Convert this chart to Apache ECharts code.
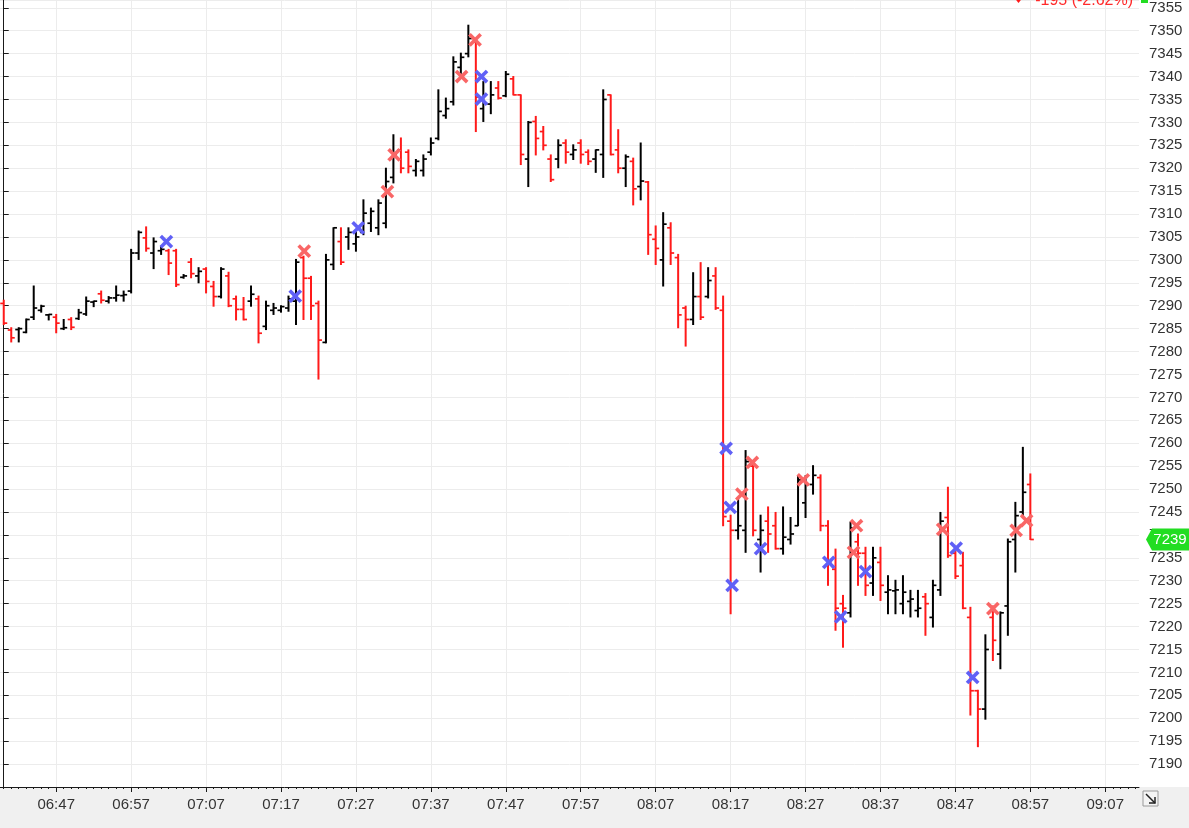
<!DOCTYPE html>
<html><head><meta charset="utf-8">
<script src="https://cdn.jsdelivr.net/npm/echarts@6/dist/echarts.min.js"></script>
<style>
html,body{margin:0;padding:0;background:#fff;}
#c{width:1189px;height:828px;background:linear-gradient(to bottom,#ffffff 0px,#ffffff 787px,#f0f0f0 787px,#f0f0f0 828px);}
</style></head><body><div id="c"></div>
<script>
// ---- data (1-minute bars starting 06:40) ----
const startMinute = 6 * 60 + 40;
const axisSlots = 152; // 06:40 .. 09:11
const opens = [7290.5,7284.7,7284.8,7284.2,7287.5,7289.0,7288.0,7287.5,7285.0,7287.0,
  7287.2,7288.2,7290.8,7292.6,7291.0,7291.7,7292.2,7293.2,7301.5,7304.8,
  7301.5,7302.0,7302.0,7302.0,7296.2,7299.5,7296.5,7298.0,7294.2,7292.0,
  7296.5,7291.5,7289.2,7291.0,7291.5,7285.5,7289.0,7289.0,7289.5,7291.0,
  7300.5,7296.0,7290.5,7282.0,7299.0,7304.0,7305.0,7303.5,7306.0,7308.0,
  7307.0,7308.0,7318.0,7324.0,7323.5,7319.5,7319.5,7323.5,7326.5,7331.5,
  7334.5,7342.0,7345.0,7347.5,7333.0,7334.0,7337.5,7335.8,7339.5,7336.0,
  7322.0,7330.2,7328.0,7322.0,7322.0,7325.5,7323.0,7325.5,7323.5,7322.0,
  7323.0,7336.0,7324.0,7320.0,7321.5,7316.0,7317.0,7304.5,7300.0,7307.0,
  7300.5,7289.5,7287.0,7292.0,7292.0,7296.5,7289.0,7243.0,7241.0,7241.0,
  7255.0,7239.0,7243.0,7242.0,7237.0,7239.0,7242.0,7247.0,7251.0,7252.5,
  7242.0,7232.5,7225.0,7223.0,7238.5,7236.0,7229.5,7234.0,7227.5,7227.8,
  7225.0,7225.5,7223.5,7226.5,7222.0,7228.0,7243.8,7236.0,7233.3,7222.0,
  7206.0,7202.0,7222.0,7214.0,7224.5,7239.0,7245.0,7251.0];
const highs = [7291.2,7285.2,7285.2,7287.1,7294.3,7290.1,7288.1,7288.1,7287.0,7287.4,
  7289.2,7291.9,7291.0,7293.2,7292.0,7294.3,7293.2,7302.3,7306.3,7307.2,
  7304.8,7303.0,7302.3,7302.3,7296.8,7300.3,7298.3,7298.3,7295.3,7298.3,
  7297.3,7292.1,7291.8,7294.3,7292.1,7291.0,7290.5,7290.0,7292.1,7300.1,
  7300.8,7296.4,7291.0,7301.2,7307.0,7307.0,7307.0,7306.2,7313.1,7311.3,
  7313.1,7320.0,7327.3,7326.6,7324.0,7321.9,7322.9,7326.6,7337.1,7335.3,
  7344.3,7345.1,7351.2,7348.0,7338.9,7338.9,7338.9,7341.1,7340.0,7336.0,
  7330.2,7331.3,7329.1,7322.9,7326.2,7326.2,7325.1,7326.2,7324.0,7324.0,
  7337.1,7336.0,7328.4,7322.9,7322.2,7325.5,7317.1,7307.4,7310.3,7308.1,
  7301.2,7289.9,7297.2,7299.4,7298.3,7298.3,7292.1,7244.3,7247.8,7258.4,
  7255.8,7244.3,7246.1,7244.9,7246.1,7243.8,7252.9,7252.9,7255.1,7253.1,
  7243.1,7236.9,7226.8,7242.8,7240.2,7237.3,7237.3,7237.3,7231.1,7230.1,
  7231.1,7227.9,7227.9,7227.2,7230.1,7244.9,7250.4,7236.6,7236.2,7224.2,
  7206.1,7218.2,7224.5,7223.2,7239.1,7247.1,7259.1,7253.3];
const lows = [7285.9,7282.1,7282.1,7284.1,7287.0,7288.6,7286.9,7284.1,7284.8,7284.8,
  7287.0,7287.9,7289.8,7290.6,7290.6,7291.0,7291.0,7292.8,7300.1,7301.9,
  7298.1,7301.2,7296.8,7294.2,7296.0,7296.1,7295.0,7292.8,7289.9,7291.7,
  7289.8,7286.9,7286.9,7289.9,7281.9,7284.8,7288.1,7288.6,7288.8,7285.9,
  7287.0,7287.0,7274.0,7281.9,7297.9,7299.0,7302.3,7301.9,7305.5,7306.2,
  7305.5,7307.0,7316.8,7319.0,7319.0,7318.3,7318.3,7322.9,7326.2,7330.9,
  7333.8,7340.7,7344.3,7328.0,7330.2,7331.9,7335.1,7335.6,7336.0,7320.8,
  7316.0,7322.9,7324.0,7317.1,7320.1,7321.1,7321.9,7321.1,7320.8,7319.1,
  7318.0,7322.9,7319.0,7316.0,7312.0,7313.1,7301.2,7299.0,7294.3,7299.0,
  7285.2,7281.2,7285.9,7287.0,7291.7,7289.2,7242.0,7222.8,7239.1,7236.2,
  7239.8,7231.9,7236.2,7236.9,7235.8,7238.0,7242.0,7243.8,7248.9,7240.9,
  7229.0,7219.2,7215.5,7222.1,7229.0,7226.8,7226.8,7225.7,7222.8,7222.8,
  7222.8,7222.1,7222.1,7218.1,7219.9,7226.8,7235.1,7230.5,7223.9,7200.7,
  7193.8,7199.8,7212.6,7210.8,7218.1,7231.9,7244.2,7239.0];
const closes = [7286.2,7283.0,7285.0,7287.0,7289.5,7289.9,7288.1,7286.2,7285.2,7285.3,
  7288.5,7291.0,7291.0,7291.2,7291.7,7292.3,7292.4,7301.5,7306.0,7302.5,
  7304.0,7302.3,7299.3,7294.6,7296.5,7297.0,7297.5,7295.3,7292.0,7298.0,
  7290.0,7289.2,7287.0,7292.5,7284.0,7290.0,7289.5,7289.8,7291.5,7299.5,
  7296.0,7290.0,7282.5,7300.0,7307.0,7299.5,7306.0,7305.0,7310.2,7310.6,
  7312.4,7317.1,7323.0,7320.0,7320.4,7321.5,7322.0,7325.5,7332.4,7333.0,
  7343.2,7344.2,7348.3,7335.5,7336.0,7336.0,7335.3,7340.5,7336.0,7323.0,
  7330.0,7326.5,7325.0,7317.5,7325.0,7323.5,7324.0,7323.0,7321.5,7324.0,
  7335.0,7323.0,7320.0,7322.5,7315.5,7317.2,7305.5,7302.5,7307.8,7301.5,
  7288.0,7287.0,7292.0,7287.5,7295.5,7289.5,7244.0,7241.0,7242.0,7256.0,
  7241.0,7241.0,7240.2,7237.0,7239.5,7240.2,7252.0,7251.0,7253.0,7242.0,
  7234.0,7224.0,7224.0,7241.5,7236.0,7229.0,7235.0,7229.0,7228.0,7228.0,
  7227.5,7226.0,7224.0,7225.0,7229.0,7243.0,7235.5,7231.0,7224.0,7206.0,
  7202.0,7215.0,7217.0,7223.0,7238.5,7244.2,7249.3,7239.0];
// signal markers: [minute offset from 06:40, price]
const buySignals = [[21.7,7304.0],[38.9,7292.1],[47.3,7307.0],[63.75,7340.0],[63.75,7335.1],
  [96.4,7258.9],[96.95,7246.0],[97.2,7229.0],[101.0,7237.0],[110.1,7234.0],[111.7,7222.1],
  [115.0,7232.0],[127.1,7237.1],[129.3,7208.9]];
const sellSignals = [[40.1,7301.9],[51.2,7314.9],[52.1,7322.9],[61.1,7340.0],[62.9,7348.0],
  [98.5,7248.9],[99.9,7255.8],[106.7,7252.0],[113.8,7242.0],[113.4,7236.2],[125.3,7241.2],
  [132.0,7223.9],[135.1,7241.0],[136.5,7243.1]];
const tickLabels = ['06:47','06:57','07:07','07:17','07:27','07:37','07:47','07:57',
  '08:07','08:17','08:27','08:37','08:47','08:57','09:07'];
const changeText = '-195 (-2.62%)';

// ---- build ----
const pad = n => (n < 10 ? '0' : '') + n;
const categories = [];
for (let k = 0; k < axisSlots; k++) {
  const m = startMinute + k;
  categories.push(pad(Math.floor(m / 60)) + ':' + pad(m % 60));
}
const ohlc = opens.map((o, i) => [i, o, highs[i], lows[i], closes[i]]);
const lastClose = closes[closes.length - 1];
const gridXs = tickLabels.map(t => ({ xAxis: categories.indexOf(t) }));
const isMajor = (idx) => tickLabels.indexOf(categories[idx]) >= 0;
const FONT = 'Liberation Sans, Arial, sans-serif';

function renderBar(params, api) {
  const x = api.value(0), o = api.value(1), h = api.value(2), l = api.value(3), c = api.value(4);
  const pH = api.coord([x, h]), pL = api.coord([x, l]), pO = api.coord([x, o]), pC = api.coord([x, c]);
  const col = c >= o ? '#000000' : '#ff1a1a';
  return { type: 'group', children: [
    { type: 'line', shape: { x1: pH[0], y1: pH[1] - 0.5, x2: pL[0], y2: pL[1] + 0.5 }, style: { stroke: col, lineWidth: 2 } },
    { type: 'line', shape: { x1: pO[0] - 3.5, y1: pO[1], x2: pO[0], y2: pO[1] }, style: { stroke: col, lineWidth: 1.7 } },
    { type: 'line', shape: { x1: pC[0], y1: pC[1], x2: pC[0] + 3.5, y2: pC[1] }, style: { stroke: col, lineWidth: 1.7 } }
  ]};
}
function xMark(color) {
  return function (params, api) {
    const p = api.coord([api.value(0), api.value(1)]);
    const s = 5.6;
    return { type: 'group', children: [
      { type: 'line', shape: { x1: p[0] - s, y1: p[1] - s, x2: p[0] + s, y2: p[1] + s }, style: { stroke: color, lineWidth: 3.6 } },
      { type: 'line', shape: { x1: p[0] - s, y1: p[1] + s, x2: p[0] + s, y2: p[1] - s }, style: { stroke: color, lineWidth: 3.6 } }
    ]};
  };
}

const chart = echarts.init(document.getElementById('c'), null, { renderer: 'canvas' });
chart.setOption({
  animation: false,
  backgroundColor: 'transparent',
  textStyle: { fontFamily: FONT },
  grid: { left: 0, right: 50, top: 0, bottom: 41, containLabel: false },
  xAxis: [
    { type: 'value', min: -0.5, max: axisSlots - 0.5, show: false },
    { type: 'category', data: categories, boundaryGap: true, position: 'bottom',
      axisLine: { show: true, lineStyle: { color: '#1a1a1a', width: 1 } },
      axisTick: { show: true, alignWithLabel: true, interval: (idx) => isMajor(idx), length: 5, lineStyle: { color: '#1a1a1a' } },
      axisLabel: { show: true, interval: (idx) => isMajor(idx), color: '#333', fontSize: 15, fontFamily: FONT, margin: 10 },
      splitLine: { show: false } },
    { type: 'category', data: categories, boundaryGap: true, position: 'bottom',
      axisLine: { show: false },
      axisTick: { show: true, alignWithLabel: true, interval: 0, length: 2, lineStyle: { color: '#1a1a1a' } },
      axisLabel: { show: false }, splitLine: { show: false } }
  ],
  yAxis: {
    type: 'value', position: 'right', min: 7185, max: 7356.7, interval: 5, scale: true,
    axisLine: { show: true, lineStyle: { color: '#1a1a1a', width: 1 } },
    axisTick: { show: true, length: 5, lineStyle: { color: '#1a1a1a' } },
    axisLabel: { color: '#333', fontSize: 15, fontFamily: FONT, margin: 10, showMinLabel: false, showMaxLabel: false,
      formatter: (v) => String(Math.round(v)) },
    splitLine: { show: true, lineStyle: { color: '#ececec', width: 1 } }
  },
  series: [
    { name: 'OHLC', type: 'custom', xAxisIndex: 0, yAxisIndex: 0, z: 3,
      data: ohlc, encode: { x: 0, y: [1, 2, 3, 4] }, renderItem: renderBar,
      markLine: { silent: true, z: 1, symbol: ['none', 'none'], label: { show: false },
        lineStyle: { color: '#ececec', type: 'solid', width: 1 }, emphasis: { disabled: true },
        data: gridXs },
      markPoint: { silent: true, z: 10,
        data: [{ coord: [axisSlots - 0.5, lastClose], value: lastClose }],
        symbol: 'path://M0,11 L6,0 L44,0 L44,22 L6,22 Z', symbolSize: [44, 22], symbolKeepAspect: false,
        symbolOffset: [29, 0],
        itemStyle: { color: '#22dd22' },
        label: { show: true, position: 'inside', formatter: '{c}', color: '#ffffff', fontSize: 15, fontFamily: FONT, offset: [2, 0] } }
    },
    { name: 'Sell', type: 'custom', xAxisIndex: 0, yAxisIndex: 0, z: 4, data: sellSignals, renderItem: xMark('#f96666') },
    { name: 'Buy', type: 'custom', xAxisIndex: 0, yAxisIndex: 0, z: 4, data: buySignals, renderItem: xMark('#6060f6') }
  ],
  graphic: [
    { type: 'text', right: 56, top: -7, z: 20, style: { text: changeText, fill: '#ff2a2a', font: '16px ' + FONT } },
    { type: 'polygon', z: 20, shape: { points: [[1013, -4], [1024, -4], [1018.5, 3]] }, style: { fill: '#ff1a1a' } },
    { type: 'rect', z: 20, shape: { x: 1141, y: 0, width: 7, height: 3 }, style: { fill: '#22dd22' } },
    { type: 'group', z: 20, children: [
      { type: 'rect', shape: { x: 1143, y: 791, width: 15, height: 15 }, style: { fill: '#f4f4f4', stroke: '#9a9a9a', lineWidth: 1 } },
      { type: 'line', shape: { x1: 1146, y1: 794, x2: 1155, y2: 803 }, style: { stroke: '#222', lineWidth: 1.5 } },
      { type: 'polyline', shape: { points: [[1149, 803], [1155, 803], [1155, 797]] }, style: { stroke: '#222', lineWidth: 1.5, fill: null } }
    ]}
  ]
});
</script></body></html>
